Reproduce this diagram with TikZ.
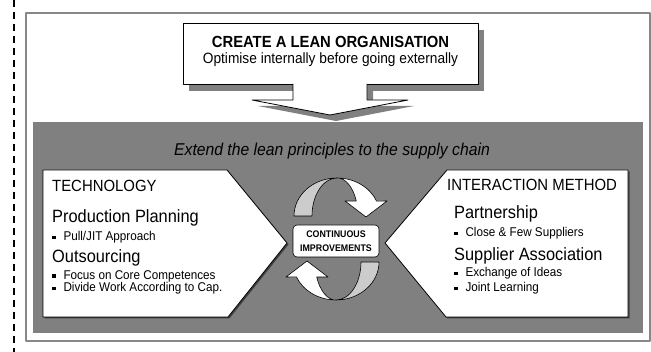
\documentclass[tikz,border=0pt]{standalone}
\usepackage{fontspec}
\setmainfont{Liberation Sans}[FakeStretch=0.92]
\usetikzlibrary{arrows}
\definecolor{panelgray}{RGB}{128,128,128}
\definecolor{ribbongray}{RGB}{204,204,204}
\definecolor{framegray}{RGB}{136,136,136}
\newcommand{\fsz}[1]{\fontsize{#1}{#1}\selectfont}
\newcommand{\sqbul}{\rule[0.15em]{0.27em}{0.27em}\hspace{0.62em}}
% one ribbon arrow of the improvement cycle (top one)
\newcommand{\ribbonarrow}{%
  \filldraw [ribbon,fill=ribbongray] (294,216) arc[start angle=180,end angle=270,x radius=43,y radius=38] arc[start angle=270,end angle=180,x radius=25,y radius=38] -- cycle;
  \filldraw [ribbon,fill=white] (337,178) arc[start angle=270,end angle=337,x radius=43,y radius=38] -- (387,201) -- (366,217) -- (345,201) -- (356.3,201) arc[start angle=337,end angle=270,x radius=21,y radius=38] -- cycle;}

\begin{document}
\begin{tikzpicture}[line cap=round,line join=round,x=1pt,y=-1pt,
  whiteshape/.style={fill=white,draw=black,line width=0.8pt},
  ribbon/.style={draw=black,line width=0.6pt},
  headtext/.style={anchor=base west,inner sep=0pt,font=\fsz{16.2}},
  subhead/.style={anchor=base west,inner sep=0pt,font=\fsz{17.8}},
  itemtext/.style={anchor=base west,inner sep=0pt,font=\fsz{12.7}}]
		\useasboundingbox (0,0) rectangle (651,352);
		\draw [line width=1.3pt,dash pattern=on 7pt off 5pt,line cap=butt] (14,0) -- (14,352);
		\draw [framegray,line width=1.5pt] (26,13) rectangle (650,341);
		\fill [panelgray] (33,122) rectangle (643,333);
		% top box, its shadow and the arrow into the panel
		\fill [panelgray,shift={(6,6)}] (293,84) -- (293,100) -- (252,100) -- (330,115) -- (408,100) -- (367,100) -- (367,84) -- cycle;
		\fill [panelgray] (189,30) rectangle (484,91);
		\draw [whiteshape] (183,23) rectangle (478,84);
		\fill [white] (293,82) -- (293,100) -- (252,100) -- (330,115) -- (408,100) -- (367,100) -- (367,82) -- cycle;
		\draw [line width=0.8pt] (293,84) -- (293,100) -- (252,100) -- (330,115) -- (408,100) -- (367,100) -- (367,84);
		\node (title) at (330.5,48) [anchor=base,inner sep=0pt,font=\bfseries\fsz{16.1}] {CREATE A LEAN ORGANISATION};
		\node (subtitle) at (330.5,63.5) [anchor=base,inner sep=0pt,font=\fsz{14.9}] {Optimise internally before going externally};
		\node (extend) at (332,155.5) [anchor=base,font=\itshape\fsz{17.1}] {Extend the lean principles to the supply chain};
		% the two panels
		\fill [black!75,shift={(1.5,1.5)}] (43,170) -- (227,170) -- (287,243) -- (228,317) -- (43,317) -- cycle;
		\draw [whiteshape] (43,170) -- (227,170) -- (287,243) -- (228,317) -- (43,317) -- cycle;
		\fill [black!75,shift={(1.5,1.5)}] (447,170) -- (628,170) -- (628,317) -- (446,317) -- (385,243) -- cycle;
		\draw [whiteshape] (447,170) -- (628,170) -- (628,317) -- (446,317) -- (385,243) -- cycle;
		% improvement cycle
		\ribbonarrow
		\begin{scope}[rotate around={180:(336.5,239)}]
		\ribbonarrow
		\end{scope}
		\node (improve) at (336,241) [draw,fill=white,rounded corners=4pt,line width=0.6pt,minimum width=86pt,minimum height=32pt,align=center,inner sep=0pt,font=\bfseries\fsz{9.6}] {CONTINUOUS\\[3.8pt]IMPROVEMENTS};
		% left panel
		\node (tech) at (52,191.5) [headtext] {TECHNOLOGY};
		\node (prodplan) at (52,223) [subhead] {Production Planning};
		\node (pulljit) at (52,241) [itemtext] {\sqbul Pull/JIT Approach};
		\node (outsrc) at (52,263) [subhead] {Outsourcing};
		\node (corecomp) at (52,279.5) [itemtext] {\sqbul Focus on Core Competences};
		\node (dividework) at (52,292) [itemtext] {\sqbul Divide Work According to Cap.};
		% right panel
		\node (intmeth) at (447,190.5) [headtext] {INTERACTION METHOD};
		\node (partner) at (454,219) [subhead] {Partnership};
		\node (fewsupp) at (454,237) [itemtext] {\sqbul Close \& Few Suppliers};
		\node (suppassoc) at (454,261) [subhead] {Supplier Association};
		\node (ideas) at (454,277) [itemtext] {\sqbul Exchange of Ideas};
		\node (learning) at (454,292) [itemtext] {\sqbul Joint Learning};
\end{tikzpicture}
\end{document}
